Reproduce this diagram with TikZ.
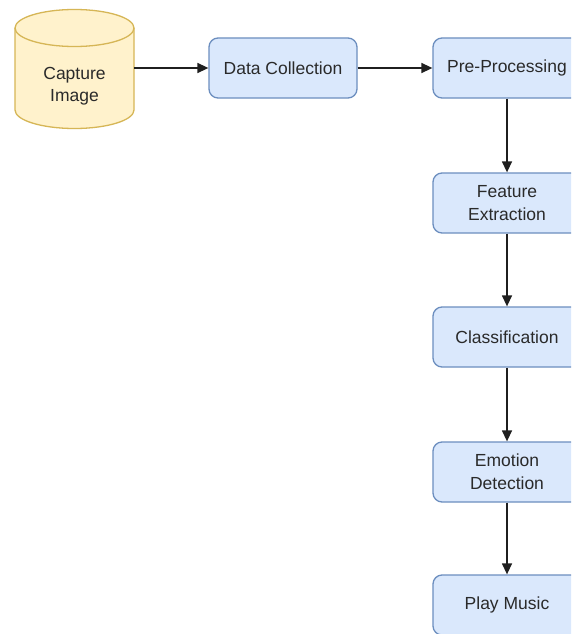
\documentclass[tikz,border=0pt]{standalone}
\usepackage{fontspec}
\setmainfont{Liberation Sans}
\usetikzlibrary{arrows.meta}
\definecolor{bfill}{HTML}{DAE8FC}
\definecolor{bline}{HTML}{6C8EBF}
\definecolor{yfill}{HTML}{FFF2CC}
\definecolor{yline}{HTML}{D6B656}
\definecolor{txt}{HTML}{2A2A2A}
\begin{document}
\begin{tikzpicture}[x=1pt,y=-1pt,
  lbl/.style={font=\fontsize{17.5}{23}\selectfont,text=txt,align=center},
  stepbox/.style={lbl,draw=bline,fill=bfill,line width=1.3pt,rounded corners=9pt,
    minimum width=148pt,minimum height=60pt,inner sep=0pt},
  flow/.style={-{Triangle[length=11pt,width=10pt]},line width=1.4pt,draw=black!88}]
\useasboundingbox (0,0) rectangle (571,634);
\clip (0,0) rectangle (571,634);
\fill[white] (0,0) rectangle (571,634);
% cylinder
\draw[draw=yline,fill=yfill,line width=1.3pt]
  (15,28) -- (15,110) arc[start angle=180,end angle=0,x radius=59.5,y radius=18.5]
  -- (134,28) arc[start angle=0,end angle=-180,x radius=59.5,y radius=18.5] -- cycle;
\draw[draw=yline,line width=1.3pt]
  (15,28) arc[start angle=180,end angle=0,x radius=59.5,y radius=18.5];
\node[minimum width=119pt,minimum height=118pt,inner sep=0pt] (cap) at (74.5,69) {};
\node[lbl,font=\fontsize{17.5}{22}\selectfont] (captxt) at (74.5,86) {Capture\\Image};
\node[stepbox] (dc) at (283,68) {Data Collection};
\node[stepbox] (pp) at (507,68) {Pre-Processing};
\node[stepbox] (fe) at (507,203) {Feature\\Extraction};
\node[stepbox] (cl) at (507,337) {Classification};
\node[stepbox] (ed) at (507,472) {Emotion\\Detection};
\node[stepbox] (pm) at (507,605) {Play Music};
\draw[flow] (cap.east |- dc.west) -- (dc.west);
\draw[flow] (dc) -- (pp);
\draw[flow] (pp) -- (fe);
\draw[flow] (fe) -- (cl);
\draw[flow] (cl) -- (ed);
\draw[flow] (ed) -- (pm);
\end{tikzpicture}
\end{document}
